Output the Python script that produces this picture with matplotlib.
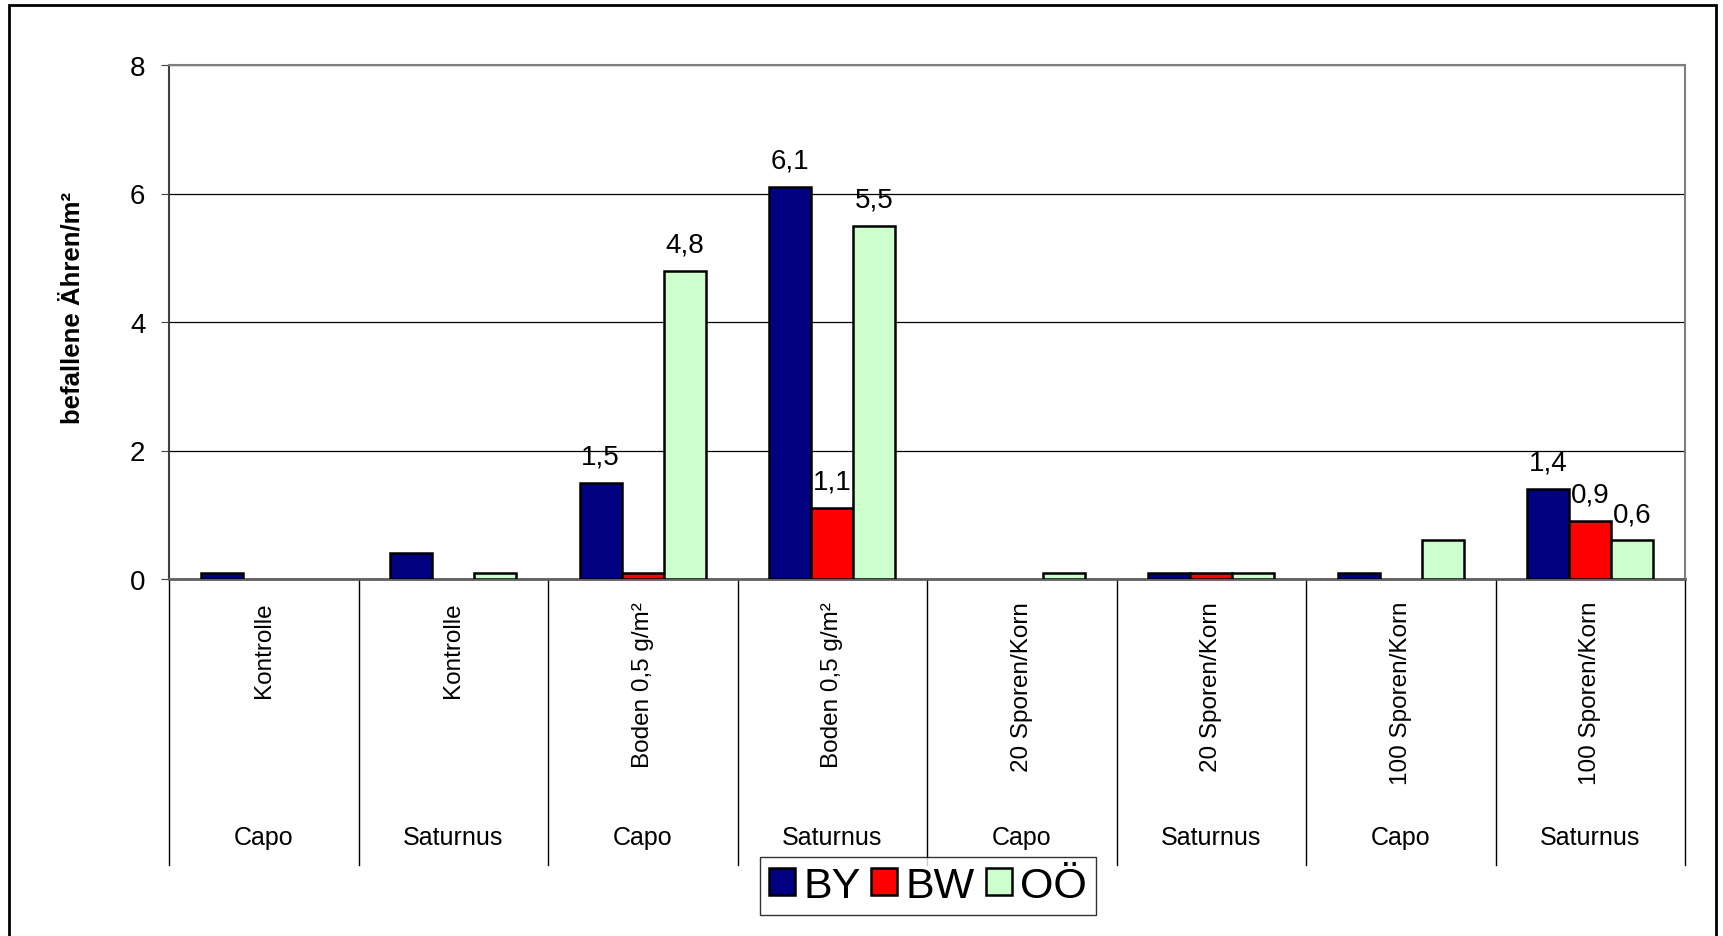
import matplotlib.pyplot as plt
import matplotlib.transforms as mtransforms
from matplotlib.patches import Rectangle
import numpy as np

plt.rcParams['font.family'] = ['Liberation Sans', 'DejaVu Sans']

treatments = ['Kontrolle', 'Kontrolle', 'Boden 0,5 g/m²', 'Boden 0,5 g/m²',
              '20 Sporen/Korn', '20 Sporen/Korn', '100 Sporen/Korn', '100 Sporen/Korn']
varieties = ['Capo', 'Saturnus', 'Capo', 'Saturnus', 'Capo', 'Saturnus', 'Capo', 'Saturnus']
series = ['BY', 'BW', 'OÖ']
by = [0.1, 0.4, 1.5, 6.1, 0.0, 0.1, 0.1, 1.4]
bw = [0.0, 0.0, 0.1, 1.1, 0.0, 0.1, 0.0, 0.9]
oo = [0.0, 0.1, 4.8, 5.5, 0.1, 0.1, 0.6, 0.6]
# which bars carry a value label in the original
lab_by = [False, False, True, True, False, False, False, True]
lab_bw = [False, False, False, True, False, False, False, True]
lab_oo = [False, False, True, True, False, False, False, True]
colors = ['#000080', '#FF0000', '#CCFFCC']

fig = plt.figure(figsize=(17.23, 9.37), dpi=100)
ax = fig.add_axes([169/1723, 1 - 580/937, (1685-169)/1723, (580-66)/937])

x = np.arange(len(varieties))
w = 0.222
for i, (vals, labs, c, name) in enumerate(zip([by, bw, oo], [lab_by, lab_bw, lab_oo], colors, series)):
    xs = x + (i - 1) * w
    h = np.array(vals, dtype=float)
    h[h == 0] = np.nan  # empty cells draw nothing
    ax.bar(xs, h, w, color=c, edgecolor='black', linewidth=1.8, label=name, zorder=3)
    for xx, v, show in zip(xs, vals, labs):
        if show:
            ax.annotate(f"{v:.1f}".replace('.', ','), (xx, v), xytext=(0, 19),
                        textcoords='offset points', ha='center', va='center', fontsize=20)

ax.set_xlim(-0.5, len(varieties) - 0.5)
ax.set_ylim(0, 8)
ax.set_yticks([0, 2, 4, 6, 8])
ax.tick_params(axis='y', labelsize=20, length=6, pad=11, color='#404040')
ax.set_xticks([])
ax.yaxis.grid(True, color='black', linewidth=0.9, zorder=0)
for s in ['top', 'right']:
    ax.spines[s].set_color('#808080')
    ax.spines[s].set_linewidth(1.5)
ax.spines['left'].set_color('#404040')
ax.spines['bottom'].set_color('#606060')
ax.spines['left'].set_linewidth(1.5)
ax.spines['bottom'].set_linewidth(2)
ax.set_ylabel('befallene Ähren/m²', fontsize=18.5, fontweight='bold')
ax.yaxis.set_label_coords(-0.056, 0.529)

# category axis below
trans = mtransforms.blended_transform_factory(ax.transData, ax.transAxes)
ah = 580 - 66
for b in np.arange(len(varieties) + 1) - 0.5:
    ax.plot([b, b], [0, -286/ah], transform=trans, color='black', linewidth=1, clip_on=False)
for xi, t, v in zip(x, treatments, varieties):
    ax.text(xi, -22/ah, t, transform=trans, rotation=90, ha='center', va='top', fontsize=17.5)
    ax.text(xi, -258/ah, v, transform=trans, ha='center', va='center', fontsize=18,
            family=['Liberation Sans Narrow', 'Liberation Sans'])

leg = fig.legend(loc='center', bbox_to_anchor=(928/1723, 1 - 887/937), ncol=3, fontsize=31,
                 frameon=True, fancybox=False, edgecolor='black', handlelength=0.6,
                 handleheight=0.6, handletextpad=0.2, columnspacing=0.25,
                 borderpad=0.2, borderaxespad=0)
leg.get_frame().set_linewidth(1)

fig.patches.append(Rectangle((9/1723, -0.05), (1716-9)/1723, 1.05 - 5.5/937, transform=fig.transFigure,
                             fill=False, edgecolor='black', linewidth=2))

fig.savefig('out.png', dpi=100)
